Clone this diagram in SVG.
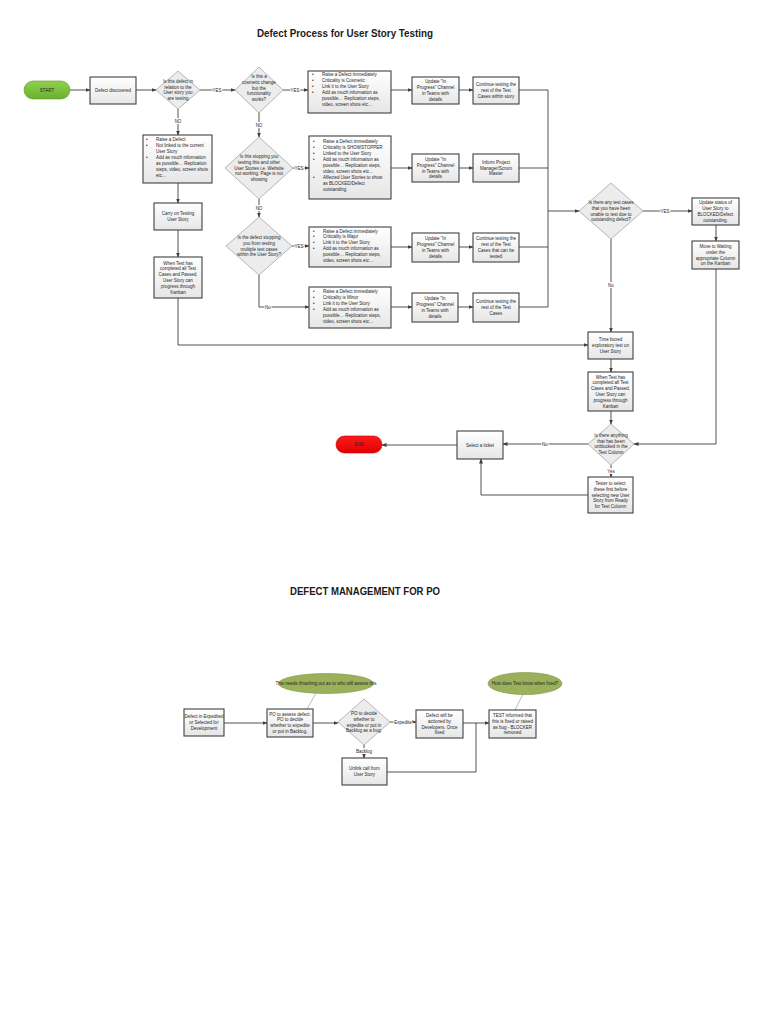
<svg xmlns="http://www.w3.org/2000/svg" width="768" height="1024" viewBox="0 0 768 1024">
<defs>
<linearGradient id="gbox" x1="0" y1="0" x2="0" y2="1"><stop offset="0" stop-color="#ffffff"/><stop offset="1" stop-color="#e6e6e6"/></linearGradient>
<linearGradient id="ggreen" x1="0" y1="0" x2="0" y2="1"><stop offset="0" stop-color="#8fd14f"/><stop offset="1" stop-color="#6ab02e"/></linearGradient>
<linearGradient id="gred" x1="0" y1="0" x2="0" y2="1"><stop offset="0" stop-color="#ff1a1a"/><stop offset="1" stop-color="#e00000"/></linearGradient>
<marker id="ah" markerUnits="userSpaceOnUse" markerWidth="5" markerHeight="4" refX="4.5" refY="2" orient="auto"><path d="M0,0 L5,2 L0,4 z" fill="#404040"/></marker>
<style>
.box{fill:url(#gbox);stroke:#404040;stroke-width:1.1}
.dia{fill:#ececec;stroke:#a6a6a6;stroke-width:0.8}
.t{font-family:"Liberation Sans",Arial,sans-serif;font-size:4.5px;fill:#262626}
.c{text-anchor:middle}
.ln{fill:none;stroke:#404040;stroke-width:0.9}
.ar{marker-end:url(#ah)}
.lab{font-family:"Liberation Sans",Arial,sans-serif;font-size:4.5px;fill:#262626;text-anchor:middle;paint-order:stroke;stroke:#ffffff;stroke-width:2}
.ttl{font-family:"Liberation Sans",Arial,sans-serif;font-weight:bold;fill:#1a1a1a;text-anchor:middle}
.ell{fill:#9bb05a;stroke:#7f9140;stroke-width:0.6}
.call{fill:none;stroke:#8a8a8a;stroke-width:0.6}
</style>
</defs>
<rect width="768" height="1024" fill="#ffffff"/>

<text class="ttl" x="345" y="37" font-size="10.5" textLength="176" lengthAdjust="spacingAndGlyphs">Defect Process for User Story Testing</text>
<text class="ttl" x="365" y="595" font-size="10.5" textLength="150" lengthAdjust="spacingAndGlyphs">DEFECT MANAGEMENT FOR PO</text>

<g id="connectors">
<path class="ln ar" d="M70,90 H90"/>
<path class="ln ar" d="M136,90 H156"/>
<path class="ln ar" d="M200,90 H235"/>
<path class="ln ar" d="M283,90 H308"/>
<path class="ln ar" d="M391,90 H412"/>
<path class="ln ar" d="M459,90 H473"/>
<path class="ln" d="M519,90 H548 V307"/>
<path class="ln" d="M519,168 H548"/>
<path class="ln" d="M519,247 H548"/>
<path class="ln" d="M519,307 H548"/>
<path class="ln ar" d="M548,211 H579"/>
<path class="ln ar" d="M178,109 V135"/>
<path class="ln ar" d="M178,183 V203"/>
<path class="ln ar" d="M178,230 V257"/>
<path class="ln ar" d="M178,298 V345 H588"/>
<path class="ln ar" d="M259,113 V137"/>
<path class="ln ar" d="M293,168 H309"/>
<path class="ln ar" d="M391,168 H412"/>
<path class="ln ar" d="M459,168 H473"/>
<path class="ln ar" d="M259,199 V217"/>
<path class="ln ar" d="M292,246 H309"/>
<path class="ln ar" d="M391,247 H412"/>
<path class="ln ar" d="M459,247 H473"/>
<path class="ln ar" d="M259,275 V307 H309"/>
<path class="ln ar" d="M391,307 H412"/>
<path class="ln ar" d="M458,307 H473"/>
<path class="ln ar" d="M643,211 H692"/>
<path class="ln ar" d="M716,225 V241"/>
<path class="ln ar" d="M716,269 V444 H634"/>
<path class="ln ar" d="M611,239 V332"/>
<path class="ln ar" d="M611,359 V372"/>
<path class="ln ar" d="M611,411 V424"/>
<path class="ln ar" d="M611,465 V477"/>
<path class="ln ar" d="M588,444 H503"/>
<path class="ln ar" d="M588,495 H481 V459"/>
<path class="ln ar" d="M457,445 H382"/>
<path class="ln ar" d="M224,723 H267"/>
<path class="ln ar" d="M313,723 H338"/>
<path class="ln ar" d="M390,722 H416"/>
<path class="ln ar" d="M463,723 H489"/>
<path class="ln ar" d="M364,745 V758"/>
<path class="ln" d="M387,772 H476 V723"/>
<path class="call" d="M316,693 L307,709"/>
<path class="call" d="M523,694 L515,710"/>
<text class="lab" x="217" y="91.6">YES</text>
<text class="lab" x="295" y="91.6">YES</text>
<text class="lab" x="178" y="122.6">NO</text>
<text class="lab" x="259" y="126.6">NO</text>
<text class="lab" x="299" y="169.6">YES</text>
<text class="lab" x="259" y="209.6">NO</text>
<text class="lab" x="299" y="247.6">YES</text>
<text class="lab" x="268" y="308.6">No</text>
<text class="lab" x="665" y="212.6">YES</text>
<text class="lab" x="611" y="286.6">No</text>
<text class="lab" x="611" y="472.6">Yes</text>
<text class="lab" x="545" y="445.6">No</text>
<text class="lab" x="403" y="723.6">Expedite</text>
<text class="lab" x="364" y="752.6">Backlog</text>
</g>

<g id="start">
<rect x="24" y="81" width="46" height="18" rx="9" fill="url(#ggreen)" stroke="#5a9a28" stroke-width="0.6"/>
<text class="t c" x="47" y="91.6">START</text>
</g>
<g id="defect-discovered">
<rect class="box" x="90" y="77" width="46" height="27"/>
<text class="t c" x="113" y="92">Defect discovered</text>
</g>
<g id="q-related">
<polygon class="dia" points="178,71 200,90 178,109 156,90"/>
<text class="t c" x="178" y="83.4">Is this defect in</text>
<text class="t c" x="178" y="88.9">relation to the</text>
<text class="t c" x="178" y="94.4">User story you</text>
<text class="t c" x="178" y="99.9">are testing</text>
</g>
<g id="q-cosmetic">
<polygon class="dia" points="259,67 283,90 259,113 235,90"/>
<text class="t c" x="259" y="78">Is this a</text>
<text class="t c" x="259" y="83.8">cosmetic change</text>
<text class="t c" x="259" y="89.6">but the</text>
<text class="t c" x="259" y="95.4">functionality</text>
<text class="t c" x="259" y="101.2">works?</text>
</g>
<g id="cosmetic-defect">
<rect class="box" x="308" y="71" width="83" height="42"/>
<g class="t">
<text x="312" y="76">•</text><text x="322" y="76">Raise a Defect immediately</text>
<text x="312" y="82">•</text><text x="322" y="82">Criticality is Cosmetic</text>
<text x="312" y="88">•</text><text x="322" y="88">Link it to the User Story</text>
<text x="312" y="94">•</text><text x="322" y="94">Add as much information as</text>
<text x="322" y="100">possible… Replication steps,</text>
<text x="322" y="106">video, screen shots etc…</text>
</g>
</g>
<g id="update-1">
<rect class="box" x="412" y="77" width="47" height="27"/>
<text class="t c" x="435.5" y="83.4">Update "In</text>
<text class="t c" x="435.5" y="89.2">Progress" Channel</text>
<text class="t c" x="435.5" y="95">in Teams with</text>
<text class="t c" x="435.5" y="100.8">details</text>
</g>
<g id="continue-1">
<rect class="box" x="473" y="77" width="46" height="27"/>
<text class="t c" x="496" y="86.3">Continue testing the</text>
<text class="t c" x="496" y="92.1">rest of the Test</text>
<text class="t c" x="496" y="97.9">Cases within story</text>
</g>
<g id="not-linked-defect">
<rect class="box" x="143" y="135" width="69" height="48"/>
<g class="t">
<text x="146" y="140.5">•</text><text x="156" y="140.5">Raise a Defect</text>
<text x="146" y="146.6">•</text><text x="156" y="146.6">Not linked to the current</text>
<text x="156" y="152.7">User Story</text>
<text x="146" y="158.8">•</text><text x="156" y="158.8">Add as much information</text>
<text x="156" y="164.9">as possible… Replication</text>
<text x="156" y="171">steps, video, screen shots</text>
<text x="156" y="177.1">etc…</text>
</g>
</g>
<g id="carry-on">
<rect class="box" x="154" y="203" width="48" height="27"/>
<text class="t c" x="178" y="215.2">Carry on Testing</text>
<text class="t c" x="178" y="221">User Story</text>
</g>
<g id="when-test-1">
<rect class="box" x="154" y="257" width="48" height="41"/>
<text class="t c" x="178" y="264.6">When Test has</text>
<text class="t c" x="178" y="270.4">completed all Test</text>
<text class="t c" x="178" y="276.2">Cases and Passed,</text>
<text class="t c" x="178" y="282">User Story can</text>
<text class="t c" x="178" y="287.8">progress through</text>
<text class="t c" x="178" y="293.6">Kanban</text>
</g>
<g id="q-showstopper">
<polygon class="dia" points="259,137 293,168 259,199 225,168"/>
<text class="t c" x="259" y="158">Is this stopping you</text>
<text class="t c" x="259" y="163.8">testing this and other</text>
<text class="t c" x="259" y="169.6">User Stories i.e. Website</text>
<text class="t c" x="259" y="175.4">not working.  Page is not</text>
<text class="t c" x="259" y="181.2">showing</text>
</g>
<g id="showstopper-defect">
<rect class="box" x="309" y="136" width="82" height="63"/>
<g class="t">
<text x="313" y="143">•</text><text x="323" y="143">Raise a Defect immediately</text>
<text x="313" y="149">•</text><text x="323" y="149">Criticality is SHOWSTOPPER</text>
<text x="313" y="155">•</text><text x="323" y="155">Linked to the User Story</text>
<text x="313" y="161">•</text><text x="323" y="161">Add as much information as</text>
<text x="323" y="167">possible… Replication steps,</text>
<text x="323" y="173">video, screen shots etc…</text>
<text x="313" y="179">•</text><text x="323" y="179">Affected User Stories to show</text>
<text x="323" y="185">as BLOCKED/Defect</text>
<text x="323" y="191">outstanding</text>
</g>
</g>
<g id="update-2">
<rect class="box" x="412" y="154" width="47" height="28"/>
<text class="t c" x="435.5" y="160.9">Update "In</text>
<text class="t c" x="435.5" y="166.7">Progress" Channel</text>
<text class="t c" x="435.5" y="172.5">in Teams with</text>
<text class="t c" x="435.5" y="178.3">details</text>
</g>
<g id="inform-pm">
<rect class="box" x="473" y="154" width="46" height="28"/>
<text class="t c" x="496" y="163.8">Inform Project</text>
<text class="t c" x="496" y="169.6">Manager/Scrum</text>
<text class="t c" x="496" y="175.4">Master</text>
</g>
<g id="q-multiple">
<polygon class="dia" points="259,217 292,246 259,275 226,246"/>
<text class="t c" x="259" y="238.9">Is the defect stopping</text>
<text class="t c" x="259" y="244.7">you from testing</text>
<text class="t c" x="259" y="250.5">multiple test cases</text>
<text class="t c" x="259" y="256.3">within the User Story?</text>
</g>
<g id="major-defect">
<rect class="box" x="309" y="227" width="82" height="40"/>
<g class="t">
<text x="313" y="232.5">•</text><text x="323" y="232.5">Raise a Defect immediately</text>
<text x="313" y="238.4">•</text><text x="323" y="238.4">Criticality is Major</text>
<text x="313" y="244.3">•</text><text x="323" y="244.3">Link it to the User Story</text>
<text x="313" y="250.2">•</text><text x="323" y="250.2">Add as much information as</text>
<text x="323" y="256.1">possible… Replication steps,</text>
<text x="323" y="262">video, screen shots etc…</text>
</g>
</g>
<g id="update-3">
<rect class="box" x="412" y="233" width="47" height="29"/>
<text class="t c" x="435.5" y="240.4">Update "In</text>
<text class="t c" x="435.5" y="246.2">Progress" Channel</text>
<text class="t c" x="435.5" y="252">in Teams with</text>
<text class="t c" x="435.5" y="257.8">details</text>
</g>
<g id="continue-3">
<rect class="box" x="473" y="233" width="46" height="29"/>
<text class="t c" x="496" y="240.4">Continue testing the</text>
<text class="t c" x="496" y="246.2">rest of the Test</text>
<text class="t c" x="496" y="252">Cases that can be</text>
<text class="t c" x="496" y="257.8">tested</text>
</g>
<g id="minor-defect">
<rect class="box" x="309" y="287" width="82" height="41"/>
<g class="t">
<text x="313" y="292.5">•</text><text x="323" y="292.5">Raise a Defect immediately</text>
<text x="313" y="298.6">•</text><text x="323" y="298.6">Criticality is Minor</text>
<text x="313" y="304.7">•</text><text x="323" y="304.7">Link it to the User Story</text>
<text x="313" y="310.8">•</text><text x="323" y="310.8">Add as much information as</text>
<text x="323" y="316.9">possible… Replication steps,</text>
<text x="323" y="323">video, screen shots etc…</text>
</g>
</g>
<g id="update-4">
<rect class="box" x="412" y="293" width="46" height="29"/>
<text class="t c" x="435" y="300.4">Update "In</text>
<text class="t c" x="435" y="306.2">Progress" Channel</text>
<text class="t c" x="435" y="312">in Teams with</text>
<text class="t c" x="435" y="317.8">details</text>
</g>
<g id="continue-4">
<rect class="box" x="473" y="293" width="46" height="29"/>
<text class="t c" x="496" y="303.3">Continue testing the</text>
<text class="t c" x="496" y="309.1">rest of the Test</text>
<text class="t c" x="496" y="314.9">Cases</text>
</g>
<g id="q-unable">
<polygon class="dia" points="611,183 643,211 611,239 579,211"/>
<text class="t c" x="611" y="203.9">Is there any test cases</text>
<text class="t c" x="611" y="209.7">that you have been</text>
<text class="t c" x="611" y="215.5">unable to test due to</text>
<text class="t c" x="611" y="221.3">outstanding defect?</text>
</g>
<g id="update-status">
<rect class="box" x="692" y="198" width="47" height="27"/>
<text class="t c" x="715.5" y="204.4">Update status of</text>
<text class="t c" x="715.5" y="210.2">User Story to</text>
<text class="t c" x="715.5" y="216">BLOCKED/Defect</text>
<text class="t c" x="715.5" y="221.8">outstanding.</text>
</g>
<g id="move-waiting">
<rect class="box" x="692" y="241" width="47" height="28"/>
<text class="t c" x="715.5" y="247.9">Move to Waiting</text>
<text class="t c" x="715.5" y="253.7">under the</text>
<text class="t c" x="715.5" y="259.5">appropriate Column</text>
<text class="t c" x="715.5" y="265.3">on the Kanban</text>
</g>
<g id="time-boxed">
<rect class="box" x="588" y="332" width="45" height="27"/>
<text class="t c" x="610.5" y="341.3">Time boxed</text>
<text class="t c" x="610.5" y="347.1">exploratory test on</text>
<text class="t c" x="610.5" y="352.9">User Story</text>
</g>
<g id="when-test-2">
<rect class="box" x="588" y="372" width="45" height="39"/>
<text class="t c" x="610.5" y="378.6">When Test has</text>
<text class="t c" x="610.5" y="384.4">completed all Test</text>
<text class="t c" x="610.5" y="390.2">Cases and Passed,</text>
<text class="t c" x="610.5" y="396">User Story can</text>
<text class="t c" x="610.5" y="401.8">progress through</text>
<text class="t c" x="610.5" y="407.6">Kanban</text>
</g>
<g id="q-unblocked">
<polygon class="dia" points="611,424 634,444 611,465 588,444"/>
<text class="t c" x="611" y="437.4">Is there anything</text>
<text class="t c" x="611" y="442.9">that has been</text>
<text class="t c" x="611" y="448.4">unblocked in the</text>
<text class="t c" x="611" y="453.9">Test Column</text>
</g>
<g id="tester-select">
<rect class="box" x="588" y="477" width="45" height="36"/>
<text class="t c" x="610.5" y="485">Tester to select</text>
<text class="t c" x="610.5" y="490.8">these first before</text>
<text class="t c" x="610.5" y="496.6">selecting new User</text>
<text class="t c" x="610.5" y="502.4">Story from Ready</text>
<text class="t c" x="610.5" y="508.2">for Test Column</text>
</g>
<g id="select-ticket">
<rect class="box" x="457" y="431" width="46" height="28"/>
<text class="t c" x="480" y="446.6">Select a ticket</text>
</g>
<g id="end">
<rect x="336" y="436" width="46" height="17" rx="8.5" fill="url(#gred)" stroke="#c00000" stroke-width="0.6"/>
<text class="t c" x="359" y="446.1">END</text>
</g>

<g id="po-defect-in">
<rect class="box" x="184" y="709" width="40" height="27"/>
<text class="t c" x="204" y="718.3">Defect in Expedited</text>
<text class="t c" x="204" y="724.3">or Selected for</text>
<text class="t c" x="204" y="730.3">Development</text>
</g>
<g id="po-assess">
<rect class="box" x="267" y="709" width="46" height="28"/>
<text class="t c" x="290" y="715.6">PO to assess defect.</text>
<text class="t c" x="290" y="721.4">PO to decide</text>
<text class="t c" x="290" y="727.2">whether to expedite</text>
<text class="t c" x="290" y="733">or put in Backlog.</text>
</g>
<g id="note-thrashing">
<ellipse class="ell" cx="326" cy="683.5" rx="47.5" ry="10"/>
<text class="t c" x="326" y="685" font-size="3.4">This needs thrashing out as to who will assess this</text>
</g>
<g id="po-decide">
<polygon class="dia" points="364,699 390,722 364,745 338,722"/>
<text class="t c" x="364" y="714.9">PO to decide</text>
<text class="t c" x="364" y="720.7">whether to</text>
<text class="t c" x="364" y="726.5">expedite or put in</text>
<text class="t c" x="364" y="732.3">Backlog as a bug.</text>
</g>
<g id="dev-action">
<rect class="box" x="416" y="710" width="47" height="28"/>
<text class="t c" x="439.5" y="716.9">Defect will be</text>
<text class="t c" x="439.5" y="722.7">actioned by</text>
<text class="t c" x="439.5" y="728.5">Developers.  Once</text>
<text class="t c" x="439.5" y="734.3">fixed</text>
</g>
<g id="test-informed">
<rect class="box" x="489" y="710" width="47" height="28"/>
<text class="t c" x="512.5" y="716.9">TEST informed that</text>
<text class="t c" x="512.5" y="722.7">this is fixed or raised</text>
<text class="t c" x="512.5" y="728.5">as bug - BLOCKER</text>
<text class="t c" x="512.5" y="734.3">removed</text>
</g>
<g id="note-how">
<ellipse class="ell" cx="525" cy="683.5" rx="37" ry="11"/>
<text class="t c" x="525" y="685" font-size="3.4">How does Test know when fixed?</text>
</g>
<g id="unlink">
<rect class="box" x="342" y="758" width="45" height="27"/>
<text class="t c" x="364.5" y="770.2">Unlink call from</text>
<text class="t c" x="364.5" y="776">User Story</text>
</g>
</svg>
